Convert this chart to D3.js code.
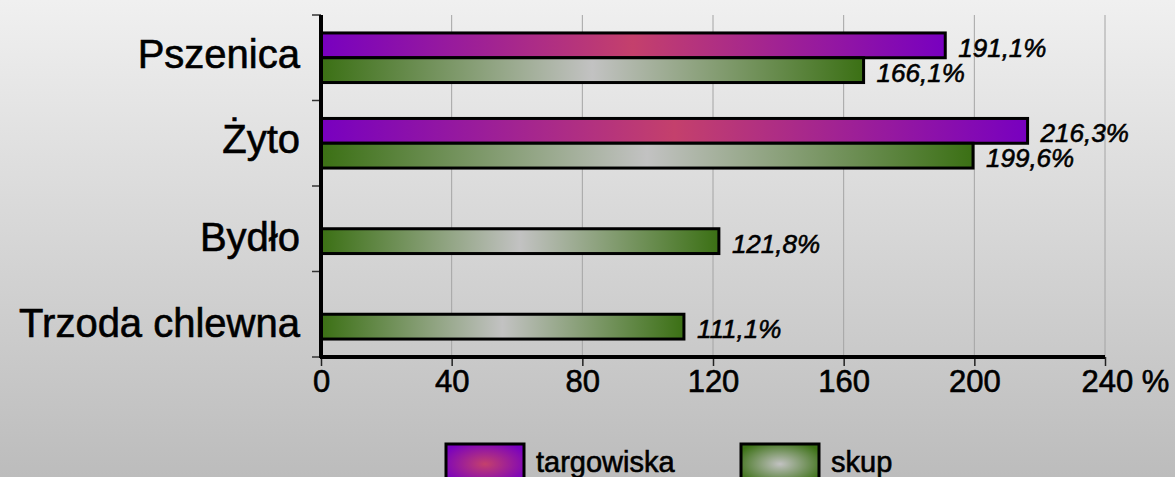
<!DOCTYPE html>
<html>
<head>
<meta charset="utf-8">
<script src="https://cdn.jsdelivr.net/npm/d3@7"></script>
<style>
    html, body { margin: 0; padding: 0; }
    svg { display: block; font-family: Arial, "Liberation Sans", sans-serif; }
    text { stroke: #000; stroke-width: 0.6px; }
</style>
</head>
<body>
<svg id="chart"></svg>
<script>
// Chart data
const categories = ['Pszenica', 'Żyto', 'Bydło', 'Trzoda chlewna'];
const seriesNames = ['targowiska', 'skup'];
const targowiska = [191.1, 216.3, null, null];
const skup = [166.1, 199.6, 121.8, 111.1];
const xTicks = [0, 40, 80, 120, 160, 200, 240];

const width = 1175;
const height = 477;
const margin = { left: 321, right: 70, top: 15, bottom: 120 };

const svg = d3.select('#chart')
    .attr('width', width)
    .attr('height', height);

const defs = svg.append('defs');

// Background gradient
const bg = defs.append('linearGradient')
    .attr('id', 'bg').attr('x1', 0).attr('y1', 0).attr('x2', 0).attr('y2', 1);
bg.append('stop').attr('offset', 0).attr('stop-color', '#f0f0f0');
bg.append('stop').attr('offset', 1).attr('stop-color', '#bcbcbc');

// Bar gradients: dark edges, light centre
const palette = {
    targowiska: { edge: '#7800c0', mid: '#c4406c' },
    skup: { edge: '#3b7014', mid: '#c2c2c2' }
};

seriesNames.forEach(name => {
    const lg = defs.append('linearGradient')
        .attr('id', 'bar-' + name).attr('x1', 0).attr('x2', 1).attr('y1', 0).attr('y2', 0);
    lg.append('stop').attr('offset', 0).attr('stop-color', palette[name].edge);
    lg.append('stop').attr('offset', 0.5).attr('stop-color', palette[name].mid);
    lg.append('stop').attr('offset', 1).attr('stop-color', palette[name].edge);

    const rg = defs.append('radialGradient')
        .attr('id', 'leg-' + name).attr('cx', 0.5).attr('cy', 0.5).attr('r', 0.6);
    rg.append('stop').attr('offset', 0).attr('stop-color', palette[name].mid);
    rg.append('stop').attr('offset', 1).attr('stop-color', palette[name].edge);
});

svg.append('rect')
    .attr('width', width).attr('height', height)
    .attr('fill', 'url(#bg)');

// Scales
const x = d3.scaleLinear()
    .domain([0, 240])
    .range([margin.left, width - margin.right]);

const y0 = d3.scaleBand()
    .domain(categories)
    .range([margin.top, height - margin.bottom])
    .paddingInner(0.42)
    .paddingOuter(0.21);

const y1 = d3.scaleBand()
    .domain(seriesNames)
    .range([0, y0.bandwidth()]);

const yTop = margin.top;
const yBottom = height - margin.bottom;

// Grid lines
svg.append('g')
    .selectAll('line')
    .data(xTicks.slice(1))
    .join('line')
    .attr('x1', d => x(d)).attr('x2', d => x(d))
    .attr('y1', yTop).attr('y2', yBottom)
    .attr('stroke', '#a4a4a4')
    .attr('stroke-width', 1);

// Bars
const rows = categories.map((c, i) => ({
    category: c,
    values: [
        { series: 'targowiska', value: targowiska[i] },
        { series: 'skup', value: skup[i] }
    ].filter(v => v.value !== null)
}));

const groups = svg.append('g')
    .selectAll('g')
    .data(rows)
    .join('g')
    .attr('transform', d => `translate(0,${y0(d.category)})`);

groups.selectAll('rect')
    .data(d => d.values)
    .join('rect')
    .attr('x', x(0))
    .attr('y', d => y1(d.series))
    .attr('width', d => x(d.value) - x(0))
    .attr('height', y1.bandwidth())
    .attr('fill', d => `url(#bar-${d.series})`)
    .attr('stroke', '#000')
    .attr('stroke-width', 3);

groups.selectAll('text')
    .data(d => d.values)
    .join('text')
    .attr('x', d => x(d.value) + 13)
    .attr('y', d => y1(d.series) + y1.bandwidth() - 1)
    .attr('font-size', 26)
    .attr('font-style', 'italic')
    .attr('fill', '#000')
    .text(d => d.value.toFixed(1).replace('.', ',') + '%');

// X axis
const xAxis = svg.append('g')
    .attr('transform', `translate(0,${yBottom})`)
    .call(d3.axisBottom(x).tickValues(xTicks).tickSize(9).tickPadding(4)
        .tickFormat(d => d === 240 ? '240 %' : d));
xAxis.select('.domain').remove();
xAxis.selectAll('.tick line').attr('stroke', '#222').attr('stroke-width', 1.5);
xAxis.selectAll('.tick text')
    .attr('font-size', 31)
    .attr('fill', '#000')
    .attr('font-family', 'Arial, "Liberation Sans", sans-serif');
xAxis.selectAll('.tick text').filter(d => d === 240)
    .attr('text-anchor', 'start').attr('dx', -24);

svg.append('line')
    .attr('x1', x(0) - 1).attr('x2', x(240))
    .attr('y1', yBottom).attr('y2', yBottom)
    .attr('stroke', '#000').attr('stroke-width', 4);

// Y axis
const bounds = categories.map(c => y0(c) - y0.step() * y0.paddingOuter());
bounds.push(yBottom);
svg.append('g')
    .selectAll('line')
    .data(bounds)
    .join('line')
    .attr('x1', x(0) - 9).attr('x2', x(0))
    .attr('y1', d => d).attr('y2', d => d)
    .attr('stroke', '#333').attr('stroke-width', 1.5);

svg.append('line')
    .attr('x1', x(0)).attr('x2', x(0))
    .attr('y1', yTop).attr('y2', yBottom + 1)
    .attr('stroke', '#000').attr('stroke-width', 4);

// Category labels sit at the middle of the bars that are present
const labelY = row => {
    const ys = row.values.map(v => y0(row.category) + y1(v.series) + y1.bandwidth() / 2);
    return d3.mean(ys);
};

svg.append('g')
    .selectAll('text')
    .data(rows)
    .join('text')
    .attr('x', x(0) - 21)
    .attr('y', d => labelY(d) + 10)
    .attr('text-anchor', 'end')
    .attr('font-size', 40)
    .attr('fill', '#000')
    .text(d => d.category);

// Legend
const legendX = [446, 741];
const legend = svg.append('g')
    .selectAll('g')
    .data(seriesNames)
    .join('g')
    .attr('transform', (d, i) => `translate(${legendX[i]},444)`);

legend.append('rect')
    .attr('width', 78).attr('height', 40)
    .attr('fill', d => `url(#leg-${d})`)
    .attr('stroke', '#000').attr('stroke-width', 3);

legend.append('text')
    .attr('x', 90).attr('y', 28)
    .attr('font-size', 29)
    .attr('fill', '#000')
    .text(d => d);
</script>
</body>
</html>
